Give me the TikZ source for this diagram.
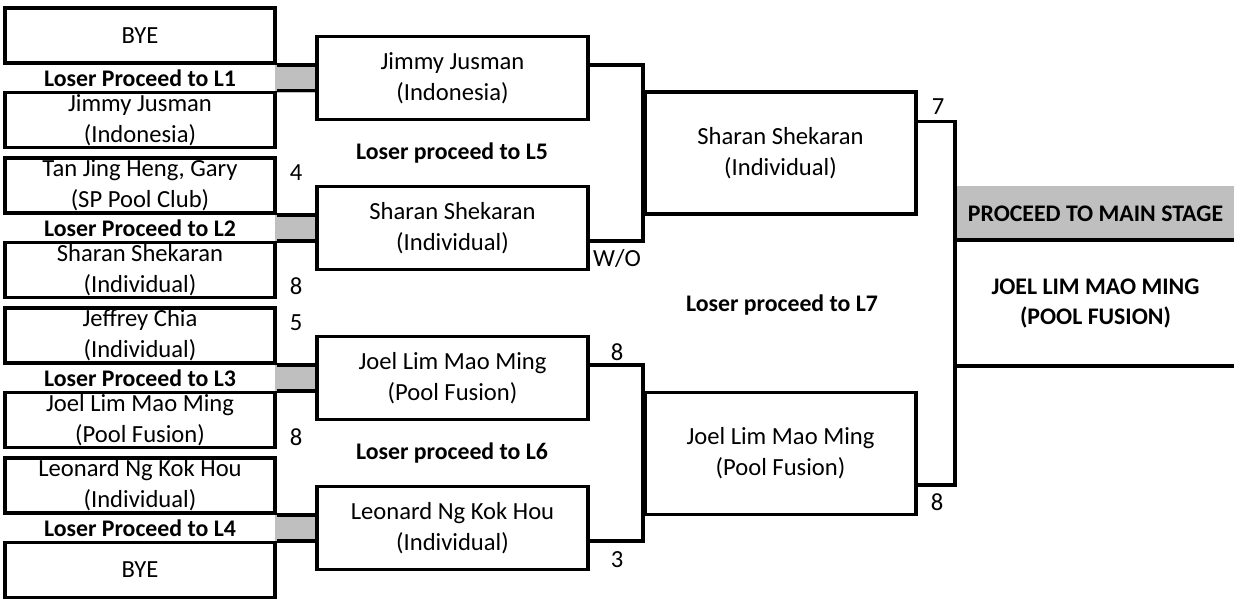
\documentclass[tikz,border=0pt]{standalone}
\usepackage{fontspec}
\setmainfont{Carlito}
\newcommand\cellfont{\fontsize{12.3}{15.5}\selectfont}
\newcommand\headfont{\fontsize{11.9}{15}\selectfont\bfseries}
\begin{document}
\begin{tikzpicture}[x=0.5pt,y=-0.5pt,line width=1.9pt,
  entry/.style={draw,inner sep=0pt,minimum width=135pt,minimum height=27.5pt,align=center,font=\cellfont},
  match/.style={draw,inner sep=0pt,minimum width=135.5pt,minimum height=41.5pt,align=center,font=\cellfont},
  semi/.style={draw,inner sep=0pt,minimum width=135.5pt,minimum height=61pt,align=center,font=\cellfont},
  greycell/.style={fill=black!25,inner sep=0pt,minimum width=21pt,minimum height=15pt},
  loser/.style={font=\headfont},
  score/.style={font=\cellfont}]
\useasboundingbox (0,0) rectangle (1234,599);

\node[greycell] (G1) at (296,78) {};
\node[greycell] (G2) at (296,228) {};
\node[greycell] (G3) at (296,378) {};
\node[greycell] (G4) at (296,528) {};
\node[greycell,minimum width=138.5pt,minimum height=28pt,font=\headfont] (H) at (1095.5,214) {PROCEED TO MAIN STAGE};

\node[entry] (LA1) at (140,35.5) {BYE};
\node[loser] (T1) at (140,78) {Loser Proceed to L1};
\node[entry] (LB1) at (140,120) {Jimmy Jusman\\(Indonesia)};
\node[entry] (LA2) at (140,185.5) {Tan Jing Heng, Gary\\(SP Pool Club)};
\node[loser] (T2) at (140,228) {Loser Proceed to L2};
\node[entry] (LB2) at (140,270) {Sharan Shekaran\\(Individual)};
\node[entry] (LA3) at (140,335.5) {Jeffrey Chia\\(Individual)};
\node[loser] (T3) at (140,378) {Loser Proceed to L3};
\node[entry] (LB3) at (140,420) {Joel Lim Mao Ming\\(Pool Fusion)};
\node[entry] (LA4) at (140,485.5) {Leonard Ng Kok Hou\\(Individual)};
\node[loser] (T4) at (140,528) {Loser Proceed to L4};
\node[entry] (LB4) at (140,570) {BYE};

\node[match] (R1) at (452.5,78) {Jimmy Jusman\\(Indonesia)};
\node[match] (R2) at (452.5,228) {Sharan Shekaran\\(Individual)};
\node[match] (R3) at (452.5,378) {Joel Lim Mao Ming\\(Pool Fusion)};
\node[match] (R4) at (452.5,528) {Leonard Ng Kok Hou\\(Individual)};

\node[semi] (S1) at (780.5,153) {Sharan Shekaran\\(Individual)};
\node[semi] (S2) at (780.5,453.5) {Joel Lim Mao Ming\\(Pool Fusion)};

\node[inner sep=0pt,minimum width=138.5pt,minimum height=61pt,align=center,font=\headfont] (W) at (1095.5,303) {JOEL LIM MAO MING\\(POOL FUSION)};

\draw (LA1.south east) -- (LA1.south east -| R1.west);
\draw (LB1.north east) -- (LB1.north east -| R1.west);
\draw (LA2.south east) -- (LA2.south east -| R2.west);
\draw (LB2.north east) -- (LB2.north east -| R2.west);
\draw (LA3.south east) -- (LA3.south east -| R3.west);
\draw (LB3.north east) -- (LB3.north east -| R3.west);
\draw (LA4.south east) -- (LA4.south east -| R4.west);
\draw (LB4.north east) -- (LB4.north east -| R4.west);

\draw (R1.east |- LA1.south) -| (S1.west) |- (R2.east |- LB2.north);
\draw (R3.east |- LA3.south) -| (S2.west) |- (R4.east |- LB4.north);
\draw (S1.east |- R1.south) -| (W.west) |- (S2.east |- R4.north);
\draw (W.north west) -- (W.north east);
\draw (W.south west) -- (W.south east);

\node[loser] (L5) at (452,153) {Loser proceed to L5};
\node[loser] (L6) at (452,453) {Loser proceed to L6};
\node[loser] (L7) at (782,305) {Loser proceed to L7};

\node[score] (s1) at (296,173) {4};
\node[score] (s2) at (296,286) {8};
\node[score] (s3) at (296,323) {5};
\node[score] (s4) at (296,437) {8};
\node[score] (s5) at (617,258) {W/O};
\node[score] (s6) at (617,352) {8};
\node[score] (s7) at (617,560) {3};
\node[score] (s8) at (938,107) {7};
\node[score] (s9) at (937,502) {8};
\end{tikzpicture}
\end{document}
